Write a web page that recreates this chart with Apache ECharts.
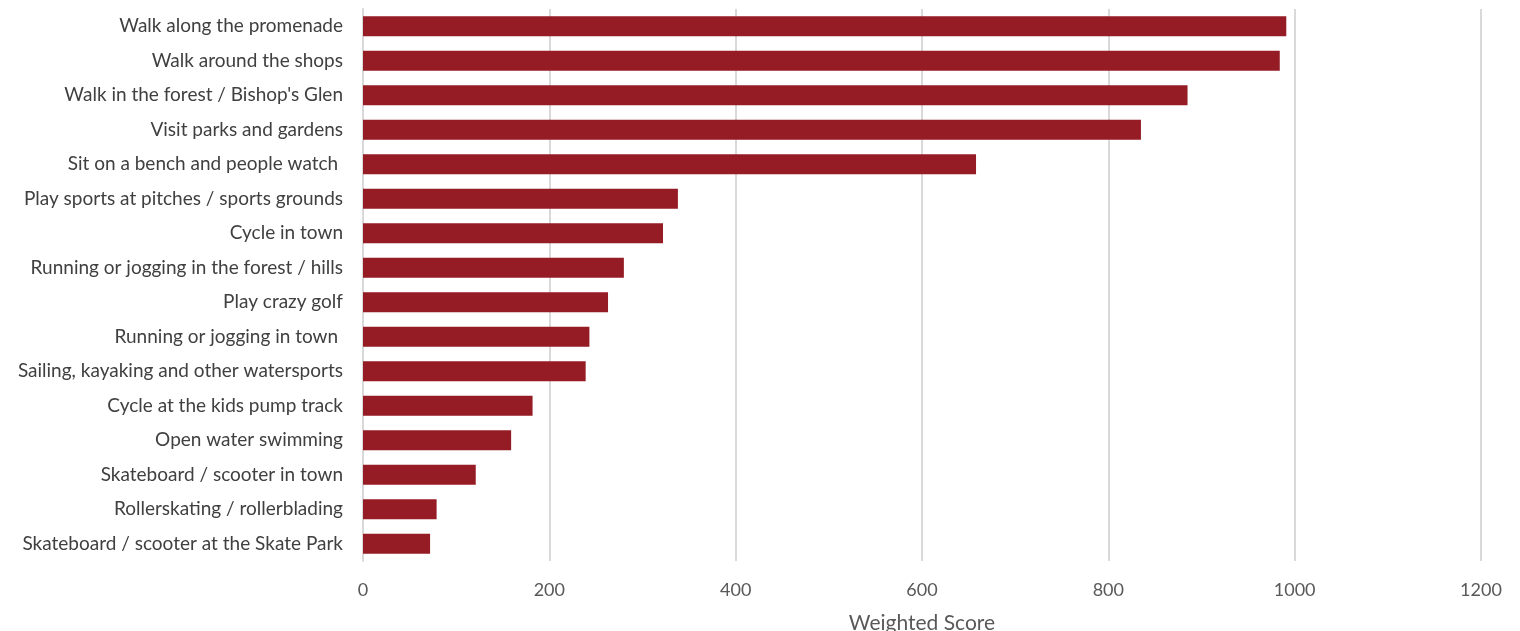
<!DOCTYPE html>
<html>
<head>
<meta charset="utf-8">
<script src="https://cdn.jsdelivr.net/npm/echarts@6/dist/echarts.min.js"></script>
<style>
  html, body { margin: 0; padding: 0; background: #ffffff; }
  #chart { width: 1520px; height: 631px; }
</style>
</head>
<body>
<div id="chart"></div>
<script>
// Activities, listed top to bottom
const activities = [
  "Walk along the promenade",
  "Walk around the shops",
  "Walk in the forest / Bishop's Glen",
  "Visit parks and gardens",
  "Sit on a bench and people watch ",
  "Play sports at pitches / sports grounds",
  "Cycle in town",
  "Running or jogging in the forest / hills",
  "Play crazy golf",
  "Running or jogging in town ",
  "Sailing, kayaking and other watersports",
  "Cycle at the kids pump track",
  "Open water swimming",
  "Skateboard / scooter in town",
  "Rollerskating / rollerblading",
  "Skateboard / scooter at the Skate Park"
];

// Weighted score for each activity
const weightedScores = [991, 984, 885, 835, 658, 338, 322, 280, 263, 243, 239, 182, 159, 121, 79, 72];

// Value axis ticks
const axisMin = 0;
const axisMax = 1200;
const axisStep = 200;

const chart = echarts.init(document.getElementById('chart'), null, { renderer: 'canvas' });

const font = 'Lato, "Open Sans", sans-serif';

chart.setOption({
  animation: false,
  backgroundColor: '#ffffff',
  grid: { left: 363, right: 39, top: 9, bottom: 70, containLabel: false, outerBoundsMode: 'none' },
  xAxis: {
    type: 'value',
    min: axisMin,
    max: axisMax,
    interval: axisStep,
    name: 'Weighted Score',
    nameLocation: 'middle',
    nameGap: 52,
    nameTextStyle: { fontFamily: font, fontSize: 21, color: '#595959' },
    axisLine: { show: false },
    axisTick: { show: false },
    axisLabel: {
      fontFamily: font, fontSize: 18, color: '#595959', margin: 20,
      formatter: v => String(v)
    },
    splitLine: { show: true, lineStyle: { color: '#d9d9d9', width: 2 } }
  },
  yAxis: {
    type: 'category',
    inverse: true,
    data: activities,
    axisLine: { show: true, lineStyle: { color: '#d9d9d9', width: 2 } },
    axisTick: { show: false },
    axisLabel: { fontFamily: font, fontSize: 19, color: '#404040', margin: 20 }
  },
  series: [{
    type: 'bar',
    data: weightedScores,
    barWidth: '58%',
    itemStyle: { color: '#951b24' }
  }]
});
</script>
</body>
</html>
